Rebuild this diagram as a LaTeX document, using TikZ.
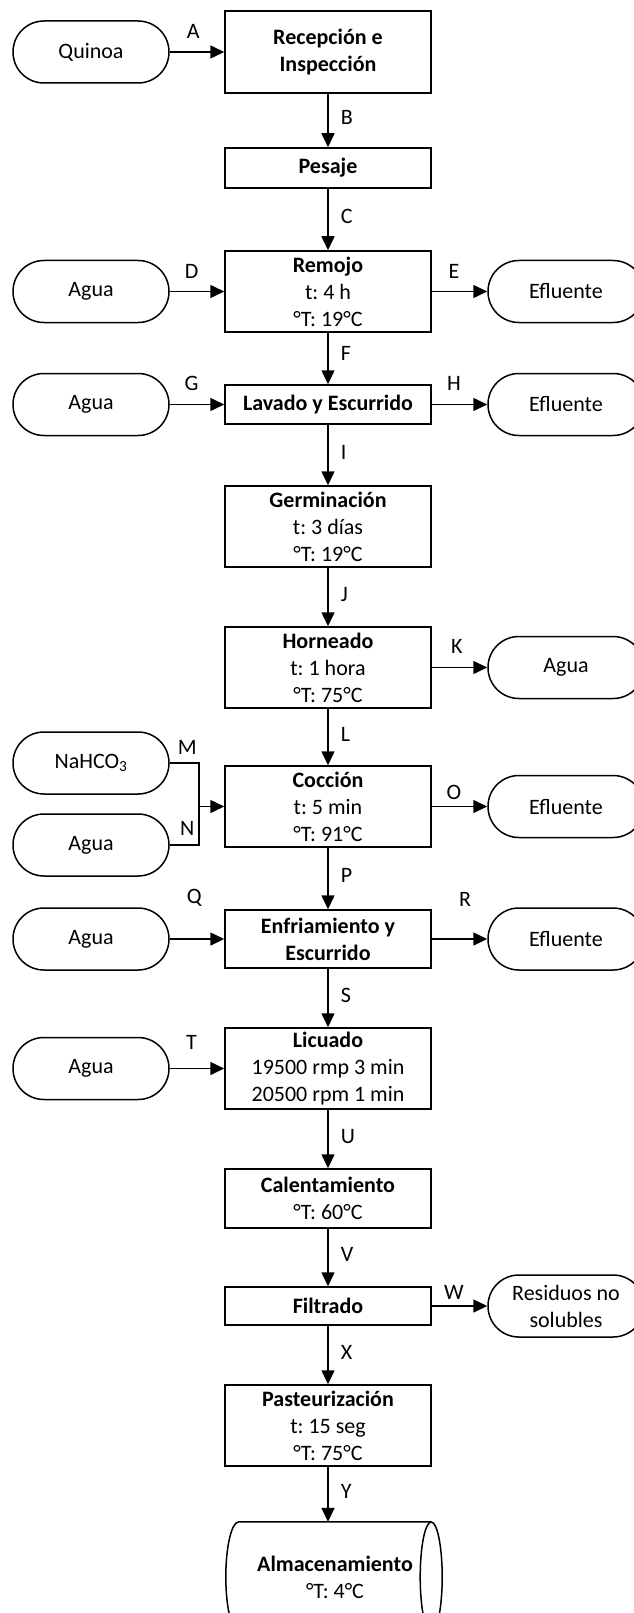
\documentclass[tikz,border=0pt]{standalone}
\usepackage{fontspec}
\setmainfont{Carlito}
\usepackage{tikz}
\usetikzlibrary{arrows.meta,positioning}
\frenchspacing
\definecolor{flowline}{RGB}{0,0,0}
\tikzset{
  procbox/.style={draw=flowline, line width=1.5pt, fill=white, minimum width=206pt, inner sep=2pt, align=center, font=\fontsize{22}{27}\selectfont},
  termbox/.style={draw=flowline, line width=1.5pt, fill=white, rounded corners=30.9pt, minimum width=156pt, minimum height=62pt, inner sep=2pt, align=center, font=\fontsize{22}{27}\selectfont},
  storebox/.style={minimum width=192pt, minimum height=110pt, inner sep=2pt, align=center, font=\fontsize{22}{27}\selectfont},
  line/.style={-{Triangle[length=14pt,width=13pt]}, draw=flowline, line width=1.5pt},
  wire/.style={draw=flowline, line width=1.5pt},
  flowlbl/.style={font=\fontsize{22}{27}\selectfont, inner sep=2pt}
}

\begin{document}
\begin{tikzpicture}[x=1pt,y=-1pt]
  \useasboundingbox[fill=white] (0,0) rectangle (633,1613);

  \node[procbox, minimum height=82pt] (rec) at (328,52) {\textbf{Recepción e}\\\textbf{Inspección}};
  \node[procbox, minimum height=40pt] (pes) at (328,168) {\textbf{Pesaje}};
  \node[procbox, minimum height=81pt] (rem) at (328,291.5) {\textbf{Remojo}\\t: 4 h\\°T: 19°C};
  \node[procbox, minimum height=39pt] (lav) at (328,404.5) {\textbf{Lavado y Escurrido}};
  \node[procbox, minimum height=81pt] (ger) at (328,526.5) {\textbf{Germinación}\\t: 3 días\\°T: 19°C};
  \node[procbox, minimum height=81pt] (hor) at (328,667.5) {\textbf{Horneado}\\t: 1 hora\\°T: 75°C};
  \node[procbox, minimum height=81pt] (coc) at (328,806.5) {\textbf{Cocción}\\t: 5 min\\°T: 91°C};
  \node[procbox, minimum height=58pt] (enf) at (328,939) {\textbf{Enfriamiento y}\\\textbf{Escurrido}};
  \node[procbox, minimum height=81pt] (lic) at (328,1068.5) {\textbf{Licuado}\\19500 rmp 3 min\\20500 rpm 1 min};
  \node[procbox, minimum height=59pt] (cal) at (328,1198.5) {\textbf{Calentamiento}\\°T: 60°C};
  \node[procbox, minimum height=38pt] (fil) at (328,1306) {\textbf{Filtrado}};
  \node[procbox, minimum height=81pt] (pas) at (328,1425.5) {\textbf{Pasteurización}\\t: 15 seg\\°T: 75°C};
  \node[storebox] (alm) at (335,1577) {\textbf{Almacenamiento}\\°T: 4°C};
  \draw[wire] (alm.north east) -- (alm.north west)
    arc[start angle=90, end angle=270, x radius=13pt, y radius=55pt] -- (alm.south east);
  \draw[wire] (alm.east) ellipse[x radius=11pt, y radius=55pt];

  \node[termbox] (quinoa) at (91,52) {Quinoa};
  \node[termbox] (aguaD) at (91,291.5) {Agua};
  \node[termbox] (eflE) at (566,291.5) {Efluente};
  \node[termbox] (aguaG) at (91,404.5) {Agua};
  \node[termbox] (eflH) at (566,404.5) {Efluente};
  \node[termbox] (aguaK) at (566,667.5) {Agua};
  \node[termbox] (nahco) at (91,763) {NaHCO\textsubscript{3}};
  \node[termbox] (aguaN) at (91,845) {Agua};
  \node[termbox] (eflO) at (566,806.5) {Efluente};
  \node[termbox] (aguaQ) at (91,939) {Agua};
  \node[termbox] (eflR) at (566,939) {Efluente};
  \node[termbox] (aguaT) at (91,1068.5) {Agua};
  \node[termbox] (res) at (566,1306) {Residuos no\\solubles};
  \coordinate (jn) at (199,806.5);

  \draw[line] (quinoa) -- node[flowlbl, pos=0.43, above=11pt] {A} (rec);
  \draw[line] (rec) -- node[flowlbl, pos=0.45, right=10pt] {B} (pes);
  \draw[line] (pes) -- node[flowlbl, pos=0.45, right=10pt] {C} (rem);
  \draw[line] (aguaD) -- node[flowlbl, pos=0.4, above=10pt] {D} (rem);
  \draw[line] (rem) -- node[flowlbl, pos=0.4, above=10pt] {E} (eflE);
  \draw[line] (rem) -- node[flowlbl, pos=0.4, right=10pt] {F} (lav);
  \draw[line] (aguaG) -- node[flowlbl, pos=0.4, above=11pt] {G} (lav);
  \draw[line] (lav) -- node[flowlbl, pos=0.4, above=11pt] {H} (eflH);
  \draw[line] (lav) -- node[flowlbl, pos=0.45, right=10pt] {I} (ger);
  \draw[line] (ger) -- node[flowlbl, pos=0.45, right=10pt] {J} (hor);
  \draw[line] (hor) -- node[flowlbl, pos=0.45, above=11pt] {K} (aguaK);
  \draw[line] (hor) -- node[flowlbl, pos=0.45, right=10pt] {L} (coc);
  \draw[wire] (nahco) -| node[flowlbl, pos=0.3, above=6pt] {M} (jn);
  \draw[wire] (aguaN) -| node[flowlbl, pos=0.3, above=7pt] {N} (jn);
  \draw[line] (jn) -- (coc);
  \draw[line] (coc) -- node[flowlbl, pos=0.4, above=4pt] {O} (eflO);
  \draw[line] (coc) -- node[flowlbl, pos=0.45, right=10pt] {P} (enf);
  \draw[line] (aguaQ) -- node[flowlbl, pos=0.45, above=30pt] {Q} (enf);
  \draw[line] (enf) -- node[flowlbl, pos=0.6, above=30pt] {R} (eflR);
  \draw[line] (enf) -- node[flowlbl, pos=0.45, right=10pt] {S} (lic);
  \draw[line] (aguaT) -- node[flowlbl, pos=0.4, above=16pt] {T} (lic);
  \draw[line] (lic) -- node[flowlbl, pos=0.45, right=10pt] {U} (cal);
  \draw[line] (cal) -- node[flowlbl, pos=0.45, right=10pt] {V} (fil);
  \draw[line] (fil) -- node[flowlbl, pos=0.4, above=4pt] {W} (res);
  \draw[line] (fil) -- node[flowlbl, pos=0.45, right=10pt] {X} (pas);
  \draw[line] (pas) -- node[flowlbl, pos=0.45, right=10pt] {Y} (pas |- alm.north);
\end{tikzpicture}
\end{document}
